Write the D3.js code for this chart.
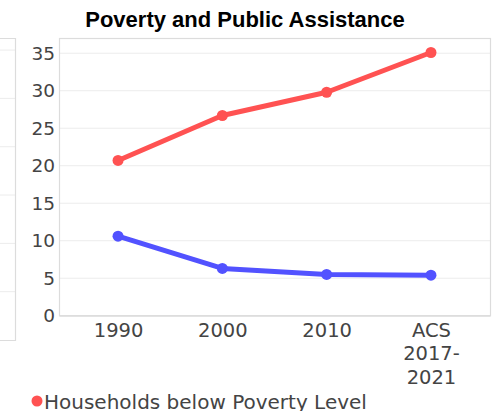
<!DOCTYPE html>
<html><head><meta charset="utf-8">
<script src="https://cdn.jsdelivr.net/npm/d3@7"></script>
<style>
html,body{margin:0;padding:0;background:#fff;overflow:hidden;}
svg{display:block;}
</style></head>
<body>
<svg id="chart" width="500" height="411"></svg>
<script>
const categories = ["1990", "2000", "2010", "ACS 2017-2021"];
const povertyHouseholds = [20.7, 26.7, 29.8, 35.1];
const publicAssistance = [10.6, 6.3, 5.5, 5.4];
const yTicks = [0, 5, 10, 15, 20, 25, 30, 35];
const seriesNames = ["Households below Poverty Level", "Households with Public Assistance Income"];
const seriesColors = ["#ff5252", "#5252ff"];
const neighbourGrid = [1, 2, 3, 4, 5, 6];

const svg = d3.select("#chart");
const plot = {left: 59, right: 490, top: 39, bottom: 315.7};

// neighbouring panel (cut off at left)
const ny = d3.scaleLinear().domain([0, 6.25]).range([340, 38]);
svg.append("g").selectAll("line").data(neighbourGrid).join("line")
  .attr("x1", 0).attr("x2", 15)
  .attr("y1", d => ny(d)).attr("y2", d => ny(d))
  .attr("stroke", "#ececec").attr("stroke-width", 1);
svg.append("path")
  .attr("d", "M-2,38.5H15.5V340.5H-2")
  .attr("fill", "none").attr("stroke", "#dcdcdc").attr("stroke-width", 1.2);

// title
svg.append("text")
  .attr("x", 245).attr("y", 26.5)
  .attr("text-anchor", "middle")
  .attr("font-family", "Liberation Sans, Arial, sans-serif")
  .attr("font-weight", "bold").attr("font-size", 22)
  .attr("fill", "#000")
  .text("Poverty and Public Assistance");

const x = d3.scalePoint().domain(categories).range([plot.left, plot.right]).padding(0.566);
const y = d3.scaleLinear().domain([0, 36.9]).range([plot.bottom, plot.top]);

// gridlines
svg.append("g").selectAll("line").data(yTicks.filter(d => d > 0)).join("line")
  .attr("x1", plot.left).attr("x2", plot.right)
  .attr("y1", d => y(d)).attr("y2", d => y(d))
  .attr("stroke", "#ececec").attr("stroke-width", 1);

// plot border
svg.append("rect")
  .attr("x", plot.left + 0.5).attr("y", plot.top - 0.5)
  .attr("width", plot.right - plot.left).attr("height", plot.bottom - plot.top + 0.5)
  .attr("fill", "none").attr("stroke", "#dcdcdc").attr("stroke-width", 1.2);

// y axis labels
const yAxis = d3.axisLeft(y).tickValues(yTicks).tickSize(0).tickPadding(4);
const gy = svg.append("g").attr("transform", `translate(${plot.left},0)`).call(yAxis);
gy.select(".domain").remove();
gy.selectAll("text").attr("font-family", "DejaVu Sans, sans-serif").attr("font-size", 18.5).attr("fill", "#444");

// x axis labels (wrapped)
const xAxis = d3.axisBottom(x).tickSize(0).tickFormat("");
const gx = svg.append("g").attr("transform", `translate(0,${plot.bottom})`).call(xAxis);
gx.select(".domain").attr("stroke", "#dcdcdc").attr("stroke-width", 1.2);
gx.selectAll(".tick").each(function(d) {
  const lines = d.replace(" ", "\n").replace(/(\d{4}-)(\d{4})/, "$1\n$2").split("\n");
  const t = d3.select(this).append("text")
    .attr("text-anchor", "middle")
    .attr("font-family", "DejaVu Sans, sans-serif")
    .attr("font-size", 19.5).attr("fill", "#444");
  lines.forEach((w, i) => {
    t.append("tspan").attr("x", 0).attr("y", 21 + i * 23.5).text(w);
  });
});

// series
const series = [povertyHouseholds, publicAssistance];
const line = d3.line().x((d, i) => x(categories[i])).y(d => y(d));
series.forEach((vals, si) => {
  svg.append("path").datum(vals)
    .attr("d", line).attr("fill", "none")
    .attr("stroke", seriesColors[si]).attr("stroke-width", 5)
    .attr("stroke-linejoin", "round").attr("stroke-linecap", "round");
  svg.append("g").selectAll("circle").data(vals).join("circle")
    .attr("cx", (d, i) => x(categories[i])).attr("cy", d => y(d))
    .attr("r", 5.5).attr("fill", seriesColors[si]);
});

// legend
const lg = svg.append("g");
seriesNames.forEach((name, i) => {
  const ly = 401 + i * 26;
  lg.append("circle").attr("cx", 37).attr("cy", ly).attr("r", 5.5).attr("fill", seriesColors[i]);
  lg.append("text").attr("x", 44).attr("y", ly + 7.5)
    .attr("font-family", "DejaVu Sans, sans-serif").attr("font-size", 20).attr("fill", "#444")
    .text(name);
});
</script>
</body></html>
